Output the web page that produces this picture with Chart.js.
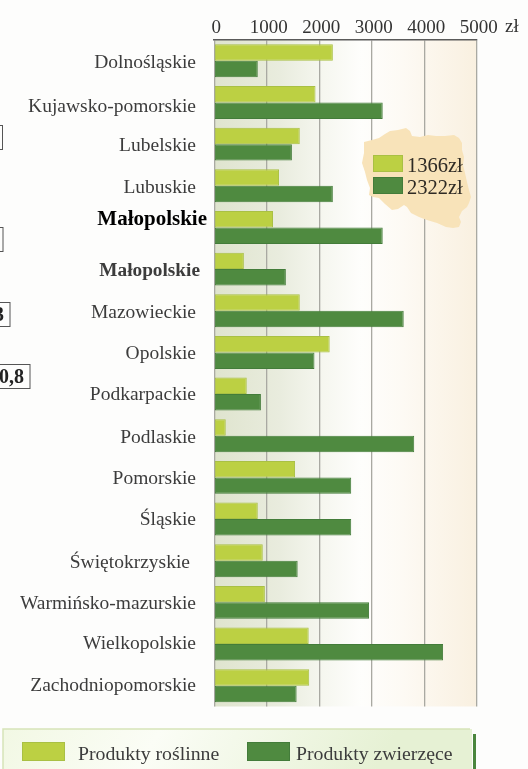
<!DOCTYPE html>
<html><head><meta charset="utf-8">
<style>html,body{margin:0;padding:0;background:#fdfdfc}#w{position:absolute;left:0;top:0;width:528px;height:769px}canvas{filter:blur(0.45px)}</style>
<script src="https://cdn.jsdelivr.net/npm/chart.js@4"></script>
</head><body><div id="w"><canvas id="c" width="528" height="769"></canvas></div>
<script>
const categories = ["Dolnośląskie","Kujawsko-pomorskie","Lubelskie","Lubuskie","Małopolskie","Małopolskie","Mazowieckie","Opolskie","Podkarpackie","Podlaskie","Pomorskie","Śląskie","Świętokrzyskie","Warmińsko-mazurskie","Wielkopolskie","Zachodniopomorskie"];
const plantProducts = [2260,1930,1630,1235,1120,565,1630,2200,620,220,1540,830,925,965,1800,1810];
const animalProducts = [830,3210,1480,2260,3210,1365,3610,1910,890,3810,2610,2610,1590,2950,4360,1570];
const xTicks = [0,1000,2000,3000,4000,5000];
const plantName = "Produkty roślinne";
const animalName = "Produkty zwierzęce";
const plantAverage = "1366zł";
const animalAverage = "2322zł";

const SERIF = '"Liberation Serif"';
const LIGHT='#bcd043', LIGHTB='#a9c044', DARK='#4f8a40', DARKB='#437c3a';

function rect(ctx,x,y,w,h,fill,stroke){ctx.fillStyle=fill;ctx.fillRect(x,y,w,h);if(stroke){ctx.strokeStyle=stroke;ctx.lineWidth=1;ctx.strokeRect(x+.5,y+.5,w-1,h-1);}}

const backdrop = {id:'backdrop',beforeDraw(ch){
  const {ctx,chartArea:a}=ch;
  const g=ctx.createLinearGradient(a.left,0,a.right,0);
  g.addColorStop(0,'#dfe4ce');g.addColorStop(.25,'#e9ecde');g.addColorStop(.42,'#f6f7f0');g.addColorStop(.56,'#fefefc');g.addColorStop(.72,'#fdfaf4');g.addColorStop(1,'#f9f0e0');
  ctx.fillStyle=g;ctx.fillRect(a.left,a.top,a.right-a.left,a.bottom-a.top);
}};

const mapShape=[[364,142],[372,140],[379,138],[385,134],[390,131],[398,130],[406,128],[410,131],[412,136],[420,137],[428,135],[436,136],[445,136],[454,135],[459,138],[462,143],[462,150],[464,157],[463,165],[465,173],[467,182],[469,190],[471,197],[469,203],[467,207],[462,211],[459,217],[461,222],[459,227],[453,228],[446,227],[437,223],[427,220],[419,217],[411,213],[407,207],[404,205],[398,209],[392,210],[385,204],[379,198],[373,197],[369,195],[370,188],[367,180],[365,172],[362,163],[364,153]];
const decor = {id:'decor',beforeDatasetsDraw(ch){
  const {ctx}=ch;
  ctx.save();
  ctx.beginPath();mapShape.forEach((p,i)=>i?ctx.lineTo(p[0],p[1]):ctx.moveTo(p[0],p[1]));ctx.closePath();
  ctx.fillStyle='#f8e3b9';ctx.fill();
  rect(ctx,373,155,30,17,LIGHT,LIGHTB);
  rect(ctx,373,177,30,17,DARK,DARKB);
  ctx.fillStyle='#2e2a24';ctx.font='20.5px '+SERIF;ctx.textBaseline='alphabetic';ctx.textAlign='left';
  ctx.fillText(plantAverage,407,172);ctx.fillText(animalAverage,407,194);
  ctx.restore();
}};

const labelTweaks={1:{dy:3},4:{dy:-9,right:207,bold:true,size:21,color:'#000'},5:{right:200,bold:true,size:19.3},8:{dy:-1},11:{dy:-1},12:{right:190},14:{dy:-2},15:{dy:-2}};
const labelsAndExtras = {id:'labelsAndExtras',afterDraw(ch){
  const {ctx,scales:{y}}=ch;
  ctx.save();
  ctx.textBaseline='alphabetic';ctx.textAlign='right';
  categories.forEach((t,i)=>{
    const k=labelTweaks[i]||{};
    ctx.fillStyle=k.color||'#3c3c3c';
    ctx.font=(k.bold?'bold ':'')+(k.size||19.5)+'px '+SERIF;
    ctx.fillText(t,k.right||196,y.getPixelForValue(i)+(k.dy||0)+7);
  });
  // axis unit
  ctx.fillStyle='#333';ctx.font='19px '+SERIF;ctx.textAlign='left';ctx.fillText('zł',505,32);
  // cropped fragments on the left edge
  ctx.strokeStyle='#555';ctx.lineWidth=1;
  ctx.strokeRect(-5,125.5,7.5,24);ctx.strokeRect(-5,227.5,8,24);ctx.strokeRect(-5,302.5,15,24);ctx.strokeRect(-5,364.5,35,24);
  ctx.fillStyle='#222';ctx.font='bold 20px '+SERIF;ctx.textAlign='right';
  ctx.fillText('3',4,321);ctx.fillText('0,8',24,383);
  // legend
  const g=ctx.createLinearGradient(3,729,300,900);g.addColorStop(0,'#f2f8e4');g.addColorStop(.4,'#fbfdf6');g.addColorStop(1,'#e6f1d4');
  ctx.fillStyle=g;ctx.fillRect(3,729,469,40);
  ctx.strokeStyle='#d6e4b8';ctx.lineWidth=1.5;ctx.beginPath();ctx.moveTo(3,769);ctx.lineTo(3,729);ctx.lineTo(470,729);ctx.stroke();
  ctx.fillStyle='#4a863d';ctx.fillRect(473,734,3,35);
  rect(ctx,22,742,43,19,LIGHT,LIGHTB);
  rect(ctx,247,742,43,19,DARK,DARKB);
  ctx.fillStyle='#3c3c3c';ctx.font='19.8px '+SERIF;ctx.textAlign='left';
  ctx.fillText(plantName,78,760);ctx.fillText(animalName,296,760);
  ctx.restore();
}};

const barStyle={categoryPercentage:.79,barPercentage:1,borderWidth:1,borderSkipped:false};
new Chart(document.getElementById('c'),{
  type:'bar',
  data:{labels:categories,datasets:[
    {label:plantName,data:plantProducts,backgroundColor:LIGHT,borderColor:LIGHTB,...barStyle},
    {label:animalName,data:animalProducts,backgroundColor:DARK,borderColor:DARKB,...barStyle}
  ]},
  options:{
    indexAxis:'y',responsive:false,animation:false,
    layout:{padding:{left:214.2,right:51.3,top:0,bottom:62.5}},
    plugins:{legend:{display:false},tooltip:{enabled:false}},
    scales:{
      x:{position:'top',min:0,max:5000,
        afterFit(s){s.height=40;},
        afterBuildTicks(s){s.ticks=xTicks.map(v=>({value:v}));},
        grid:{color:'#a9a9a2',lineWidth:1.3,drawTicks:false},
        border:{color:'#5a5a5a',width:1.5},
        ticks:{padding:1,labelOffset:2,maxRotation:0,autoSkip:false,color:'#333',font:{family:SERIF,size:19},callback:v=>String(v)}},
      y:{display:false}
    }
  },
  plugins:[backdrop,decor,labelsAndExtras]
});
</script></body></html>
